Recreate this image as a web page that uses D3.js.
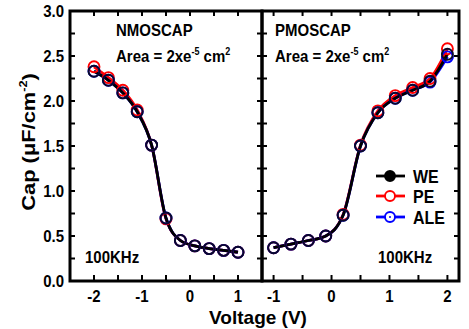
<!DOCTYPE html>
<html><head><meta charset="utf-8">
<script src="https://cdn.jsdelivr.net/npm/d3@7"></script>
<style>body{margin:0;background:#fff}svg{display:block}text{font-family:Arial,"Liberation Sans",sans-serif;font-weight:bold}</style>
</head><body><svg id="c" width="469" height="329"></svg>
<script>
// NMOSCAP C-V sweep
const nV = [-2, -1.7, -1.4, -1.1, -0.8, -0.5, -0.2, 0.1, 0.4, 0.7, 1.0];
const nWE = [2.33, 2.23, 2.09, 1.88, 1.51, 0.70, 0.45, 0.39, 0.36, 0.34, 0.32];
const nPE = [2.38, 2.26, 2.12, 1.90, 1.51, 0.69, 0.45, 0.39, 0.36, 0.34, 0.32];
const nALE = [2.33, 2.23, 2.09, 1.88, 1.51, 0.70, 0.45, 0.39, 0.36, 0.34, 0.32];
// PMOSCAP C-V sweep
const pV = [-1, -0.7, -0.4, -0.1, 0.2, 0.5, 0.8, 1.1, 1.4, 1.7, 2.0];
const pWE = [0.37, 0.41, 0.45, 0.50, 0.73, 1.50, 1.87, 2.03, 2.12, 2.22, 2.52];
const pPE = [0.37, 0.41, 0.45, 0.50, 0.74, 1.51, 1.89, 2.06, 2.15, 2.25, 2.58];
const pALE = [0.37, 0.41, 0.45, 0.50, 0.73, 1.50, 1.87, 2.03, 2.12, 2.21, 2.49];
const yTicks = [0.0, 0.5, 1.0, 1.5, 2.0, 2.5, 3.0];
const nXTicks = [-2, -1, 0, 1];
const pXTicks = [-1, 0, 1, 2];
const seriesNames = ["WE", "PE", "ALE"];
const seriesColors = ["#000", "#ff0000", "#0000ff"];

const svg = d3.select("#c");
const plotTop = 11, plotBottom = 281, xL = 70, xM = 262, xR = 459;
const y = d3.scaleLinear().domain([0, 3]).range([plotBottom, plotTop]);
const xn = d3.scaleLinear().domain([-2.5, 1.5]).range([xL, xM]);
const xp = d3.scaleLinear().domain([-1.2, 2.2]).range([xM, xR]);

// text is set slightly taller than wide
const STRETCH = 1.15;
function stext(x0, y0, size, anchor, rot, sy) {
  return svg.append("g")
    .attr("transform", `translate(${x0},${y0}) scale(1,${sy || STRETCH})` + (rot ? ` rotate(${rot})` : ""))
    .append("text").attr("font-size", size).attr("text-anchor", anchor || "start");
}

function panel(x, ticks, minor, V, sets) {
  const g = svg.append("g");
  // inward ticks on all four sides
  d3.range(0, 3.001, 0.25).forEach(v => {
    g.append("line").attr("x1", x.range()[0]).attr("x2", x.range()[0] + 5)
      .attr("y1", y(v)).attr("y2", y(v)).attr("stroke", "#000").attr("stroke-width", 2);
    g.append("line").attr("x1", x.range()[1]).attr("x2", x.range()[1] - 5)
      .attr("y1", y(v)).attr("y2", y(v)).attr("stroke", "#000").attr("stroke-width", 2);
  });
  minor.forEach(v => {
    g.append("line").attr("x1", x(v)).attr("x2", x(v)).attr("y1", plotBottom).attr("y2", plotBottom - 6)
      .attr("stroke", "#000").attr("stroke-width", 2);
    g.append("line").attr("x1", x(v)).attr("x2", x(v)).attr("y1", plotTop).attr("y2", plotTop + 5)
      .attr("stroke", "#000").attr("stroke-width", 2);
  });
  ticks.forEach(v => stext(x(v), plotBottom + 21, 15, "middle").text(v));
  // series: PE and ALE drawn under WE
  const line = d3.line().x((d, i) => x(V[i])).y(d => y(d)).curve(d3.curveMonotoneX);
  [1, 2, 0].forEach(k => {
    g.append("path").attr("d", line(sets[k])).attr("fill", "none")
      .attr("stroke", seriesColors[k]).attr("stroke-width", 2.8);
  });
  [1, 2, 0].forEach(k => {
    g.selectAll(null).data(sets[k]).join("circle")
      .attr("cx", (d, i) => x(V[i])).attr("cy", d => y(d)).attr("r", 5.5)
      .attr("fill", "none").attr("stroke", k === 0 ? "#0a0a28" : seriesColors[k]).attr("stroke-width", 1.9);
  });
  g.append("rect").attr("x", x.range()[0]).attr("y", plotTop)
    .attr("width", x.range()[1] - x.range()[0]).attr("height", plotBottom - plotTop)
    .attr("fill", "none").attr("stroke", "#000").attr("stroke-width", 3);
}

panel(xn, nXTicks, d3.range(-2.5, 1.501, 0.5), nV, [nWE, nPE, nALE]);
panel(xp, pXTicks, d3.range(-1, 2.001, 0.5), pV, [pWE, pPE, pALE]);

// y tick labels
yTicks.forEach(v => stext(xL - 6, y(v) + 6, 15, "end").text(v.toFixed(1)));

// annotations
stext(116, 36, 15).text("NMOSCAP");
stext(275, 36, 15).text("PMOSCAP");
[116, 275].forEach(x0 => {
  const t = stext(x0, 61.5, 15);
  t.append("tspan").text("Area = 2xe");
  t.append("tspan").attr("dy", -6).attr("font-size", 9).text("-5");
  t.append("tspan").attr("dy", 6).text(" cm");
  t.append("tspan").attr("dy", -6).attr("font-size", 9).text("2");
});
stext(85, 263, 15).text("100KHz");
stext(378, 263, 15).text("100KHz");

// legend
const legY = [176, 196, 217];
seriesNames.forEach((n, k) => {
  svg.append("line").attr("x1", 376).attr("x2", 405).attr("y1", legY[k]).attr("y2", legY[k])
    .attr("stroke", seriesColors[k]).attr("stroke-width", 2.8);
  svg.append("circle").attr("cx", 390).attr("cy", legY[k]).attr("r", 5)
    .attr("fill", k === 0 ? "#000" : "#fff").attr("stroke", seriesColors[k]).attr("stroke-width", 1.9);
  if (k === 2) svg.append("circle").attr("cx", 390).attr("cy", legY[k]).attr("r", 1).attr("fill", "#0000ff");
  stext(413, legY[k] + 6.5, 16).text(n);
});

// axis titles
stext(258, 324, 19, "middle", 0, 1).text("Voltage (V)");
const yt = stext(35, 142, 19, "middle", -90);
yt.append("tspan").text("Cap (\u03bcF/cm");
yt.append("tspan").attr("dy", -8).attr("font-size", 11).text("-2");
yt.append("tspan").attr("dy", 8).text(")");
</script></body></html>
